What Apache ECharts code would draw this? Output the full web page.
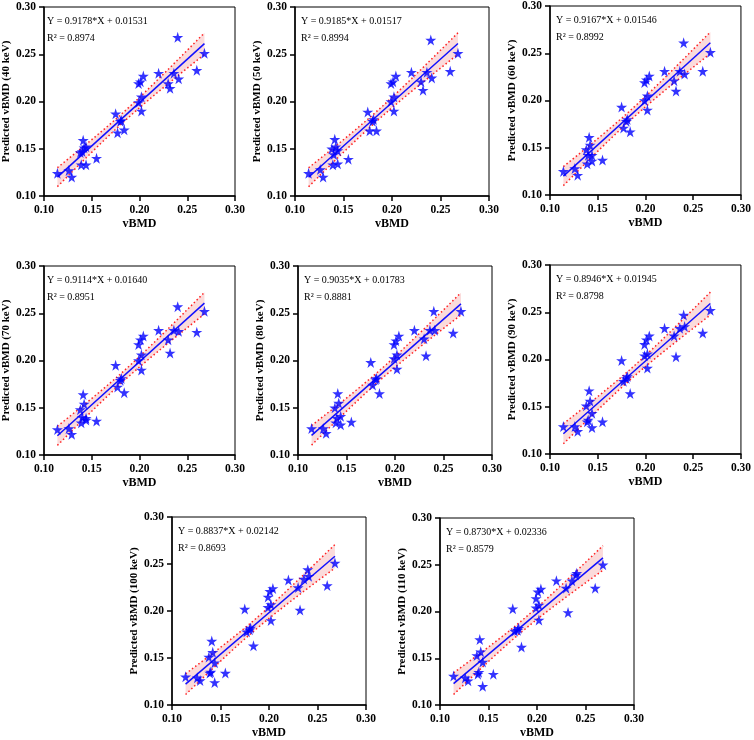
<!DOCTYPE html>
<html>
<head>
<meta charset="utf-8">
<script src="https://cdn.jsdelivr.net/npm/echarts@6/dist/echarts.min.js"></script>
<style>
  html, body { margin: 0; padding: 0; background: #fff; }
  #chart { width: 754px; height: 740px; }
</style>
</head>
<body>
<div id="chart"></div>
<script>
// measured vBMD (shared x values)
var vBMD = [0.114, 0.126, 0.129, 0.138, 0.141, 0.142, 0.140, 0.139, 0.144, 0.144,
            0.155, 0.175, 0.177, 0.180, 0.181, 0.184, 0.199, 0.201, 0.204, 0.202,
            0.199, 0.202, 0.220, 0.230, 0.232, 0.236, 0.241, 0.240, 0.260, 0.268];

// predicted vBMD per energy level
var pred40 = [0.124, 0.127, 0.120, 0.146, 0.159, 0.151, 0.147, 0.133, 0.133, 0.152,
              0.140, 0.187, 0.167, 0.179, 0.180, 0.170, 0.219, 0.221, 0.227, 0.205,
              0.199, 0.190, 0.230, 0.219, 0.214, 0.230, 0.224, 0.268, 0.233, 0.251];
var pred50 = [0.124, 0.128, 0.120, 0.150, 0.160, 0.152, 0.144, 0.133, 0.134, 0.148,
              0.139, 0.189, 0.169, 0.179, 0.181, 0.169, 0.219, 0.221, 0.227, 0.205,
              0.200, 0.190, 0.231, 0.221, 0.212, 0.231, 0.225, 0.265, 0.232, 0.251];
var pred60 = [0.125, 0.128, 0.121, 0.148, 0.161, 0.153, 0.142, 0.133, 0.136, 0.142,
              0.137, 0.193, 0.171, 0.178, 0.180, 0.167, 0.219, 0.222, 0.226, 0.205,
              0.200, 0.190, 0.231, 0.221, 0.210, 0.231, 0.228, 0.261, 0.231, 0.251];
var pred70 = [0.127, 0.128, 0.122, 0.148, 0.164, 0.154, 0.140, 0.134, 0.137, 0.139,
              0.136, 0.195, 0.172, 0.179, 0.181, 0.166, 0.217, 0.222, 0.226, 0.206,
              0.200, 0.190, 0.232, 0.222, 0.208, 0.232, 0.231, 0.257, 0.230, 0.252];
var pred80 = [0.128, 0.128, 0.123, 0.150, 0.165, 0.155, 0.139, 0.134, 0.132, 0.141,
              0.135, 0.198, 0.174, 0.180, 0.181, 0.165, 0.217, 0.221, 0.226, 0.206,
              0.202, 0.191, 0.232, 0.223, 0.205, 0.232, 0.232, 0.252, 0.229, 0.252];
var pred90 = [0.129, 0.129, 0.124, 0.151, 0.167, 0.156, 0.136, 0.134, 0.128, 0.143,
              0.134, 0.199, 0.177, 0.180, 0.182, 0.164, 0.216, 0.221, 0.225, 0.206,
              0.204, 0.191, 0.233, 0.225, 0.203, 0.233, 0.235, 0.247, 0.228, 0.252];
var pred100 = [0.130, 0.129, 0.126, 0.151, 0.168, 0.156, 0.135, 0.134, 0.124, 0.145,
               0.134, 0.202, 0.178, 0.180, 0.182, 0.163, 0.215, 0.221, 0.224, 0.207,
               0.204, 0.190, 0.233, 0.225, 0.201, 0.234, 0.237, 0.244, 0.227, 0.251];
var pred110 = [0.131, 0.129, 0.126, 0.153, 0.170, 0.157, 0.135, 0.133, 0.120, 0.146,
               0.133, 0.203, 0.179, 0.180, 0.182, 0.162, 0.214, 0.221, 0.224, 0.207,
               0.204, 0.191, 0.233, 0.225, 0.199, 0.233, 0.241, 0.239, 0.225, 0.250];

var predicted = [pred40, pred50, pred60, pred70, pred80, pred90, pred100, pred110];
var energies = ['40 keV', '50 keV', '60 keV', '70 keV', '80 keV', '90 keV', '100 keV', '110 keV'];
var slopes = [0.9178, 0.9185, 0.9167, 0.9114, 0.9035, 0.8946, 0.8837, 0.8730];
var intercepts = ['0.01531', '0.01517', '0.01546', '0.01640', '0.01783', '0.01945', '0.02142', '0.02336'];
var r2 = ['0.8974', '0.8994', '0.8992', '0.8951', '0.8881', '0.8798', '0.8693', '0.8579'];
var axisTicks = [0.10, 0.15, 0.20, 0.25, 0.30];

// panel boxes (px)
var boxes = [
    {left: 41, top: 7}, {left: 295, top: 7}, {left: 550, top: 6},
    {left: 41, top: 266}, {left: 298, top: 266}, {left: 550, top: 265},
    {left: 172, top: 517}, {left: 440, top: 518}
];
var boxW = 194, boxH = 189;

var serif = '"Liberation Serif", "Times New Roman", serif';
var star = 'path://M50,0 L61,35 L98,35 L68,57 L79,91 L50,70 L21,91 L32,57 L2,35 L39,35 Z';

// 95% confidence band of the fitted line
function confBand(xs, ys, a, b) {
    var n = xs.length, xbar = 0, sxx = 0, sse = 0;
    xs.forEach(function (v) { xbar += v; });
    xbar /= n;
    xs.forEach(function (v, i) {
        sxx += (v - xbar) * (v - xbar);
        var r = ys[i] - (a * v + b);
        sse += r * r;
    });
    var s = Math.sqrt(sse / (n - 2)), t = 2.048;
    var xmin = Math.min.apply(null, xs), xmax = Math.max.apply(null, xs);
    var up = [], lo = [];
    for (var k = 0; k <= 40; k++) {
        var x = xmin + (xmax - xmin) * k / 40;
        var h = t * s * Math.sqrt(1 / n + (x - xbar) * (x - xbar) / sxx);
        var yh = a * x + b;
        up.push([x, yh + h]);
        lo.push([x, yh - h]);
    }
    return {up: up, lo: lo};
}

var grid = [], xAxis = [], yAxis = [], series = [], graphic = [];
var xmin = Math.min.apply(null, vBMD), xmax = Math.max.apply(null, vBMD);

for (let i = 0; i < 8; i++) {
    let bx = boxes[i];
    let a = slopes[i], b = parseFloat(intercepts[i]);
    grid.push({left: bx.left, top: bx.top, width: boxW, height: boxH,
        show: true, borderColor: '#000', borderWidth: 1, backgroundColor: 'transparent'});
    let axisCommon = {
        type: 'value', min: axisTicks[0], max: axisTicks[axisTicks.length - 1], interval: 0.05,
        gridIndex: i,
        axisLine: {show: true, onZero: false, lineStyle: {color: '#000', width: 1.5}},
        axisTick: {show: true, inside: false, length: 5, lineStyle: {color: '#000', width: 1.5}},
        splitLine: {show: false},
        axisLabel: {color: '#000', fontFamily: serif, fontWeight: 'bold', fontSize: 11.5,
            formatter: function (v) { return v.toFixed(2); }},
        nameTextStyle: {color: '#000', fontFamily: serif, fontWeight: 'bold', fontSize: 12},
        nameLocation: 'middle'
    };
    xAxis.push(Object.assign({}, axisCommon, {
        name: 'vBMD', nameGap: 22,
        axisLabel: Object.assign({}, axisCommon.axisLabel, {margin: 8, showMaxLabel: true})
    }));
    yAxis.push(Object.assign({}, axisCommon, {
        name: 'Predicted vBMD (' + energies[i] + ')', nameGap: 29,
        nameTextStyle: Object.assign({}, axisCommon.nameTextStyle, {fontSize: 11}),
        axisLabel: Object.assign({}, axisCommon.axisLabel, {margin: 8})
    }));

    let band = confBand(vBMD, predicted[i], a, b);
    let poly = band.up.concat(band.lo.slice().reverse());

    series.push({
        type: 'custom', xAxisIndex: i, yAxisIndex: i, silent: true, z: 1,
        data: [0],
        renderItem: function (params, api) {
            return {
                type: 'polygon',
                shape: {points: poly.map(function (p) { return api.coord(p); })},
                style: {fill: 'rgba(248, 190, 190, 0.55)'}
            };
        }
    });
    series.push({
        type: 'line', xAxisIndex: i, yAxisIndex: i, data: band.up, showSymbol: false, silent: true, z: 2,
        lineStyle: {color: '#ff2020', width: 1.5, type: [1.5, 2.5]}
    });
    series.push({
        type: 'line', xAxisIndex: i, yAxisIndex: i, data: band.lo, showSymbol: false, silent: true, z: 2,
        lineStyle: {color: '#ff2020', width: 1.5, type: [1.5, 2.5]}
    });
    series.push({
        type: 'line', xAxisIndex: i, yAxisIndex: i, showSymbol: false, silent: true, z: 3,
        data: [[xmin, a * xmin + b], [xmax, a * xmax + b]],
        lineStyle: {color: '#1010ff', width: 1.5}
    });
    series.push({
        type: 'scatter', xAxisIndex: i, yAxisIndex: i, z: 4,
        symbol: star, symbolSize: 11,
        itemStyle: {color: '#0000ff'},
        data: vBMD.map(function (x, k) { return [x, predicted[i][k]]; })
    });

    graphic.push({
        type: 'text', left: bx.left + 6, top: bx.top + 9,
        style: {text: 'Y = ' + slopes[i].toFixed(4) + '*X + ' + intercepts[i],
            fill: '#000', font: '10px ' + serif}
    });
    graphic.push({
        type: 'text', left: bx.left + 6, top: bx.top + 26,
        style: {text: 'R² = ' + r2[i], fill: '#000', font: '10px ' + serif}
    });
}

var chart = echarts.init(document.getElementById('chart'), null, {renderer: 'canvas'});
chart.setOption({
    animation: false,
    backgroundColor: '#fff',
    grid: grid,
    xAxis: xAxis,
    yAxis: yAxis,
    series: series,
    graphic: graphic
});
</script>
</body>
</html>
